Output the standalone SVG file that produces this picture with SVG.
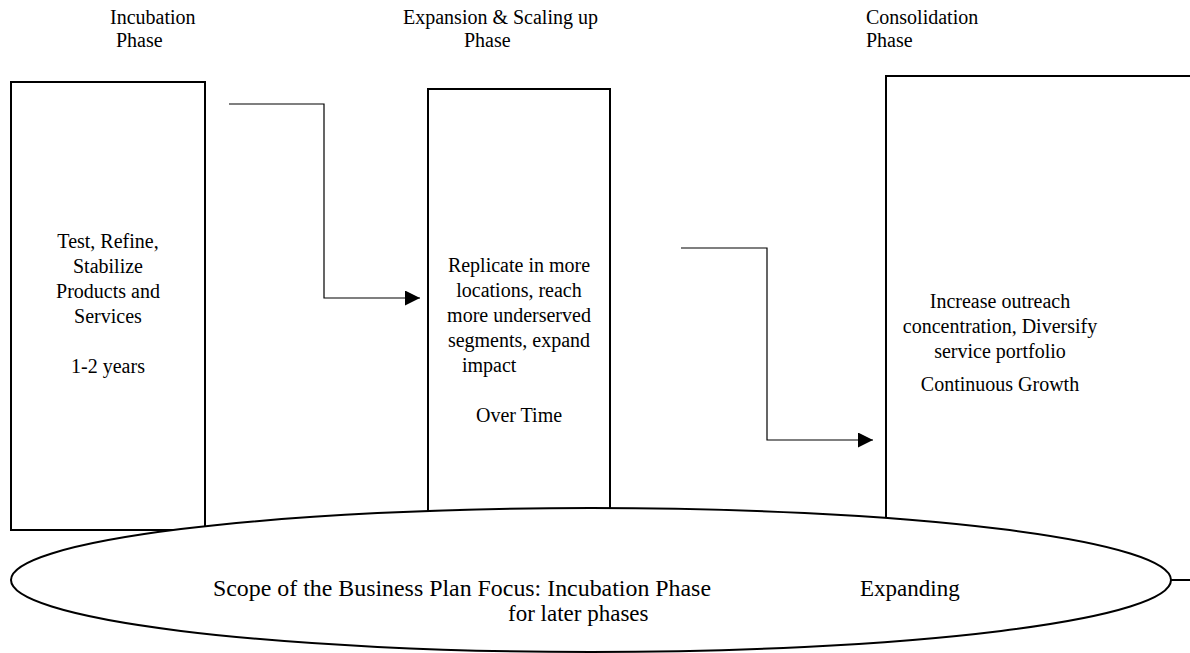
<svg xmlns="http://www.w3.org/2000/svg" width="1190" height="653" viewBox="0 0 1190 653">
<style>
text{font-family:"Liberation Serif","Times New Roman",serif;font-size:20px;fill:#000}
.big{font-size:23px}
.box{fill:#fff;stroke:#000;stroke-width:2}
.conn{fill:none;stroke:#000;stroke-width:1.2}
.c{text-anchor:middle}
</style>
<defs>
<marker id="ah" viewBox="0 0 10 10" refX="10" refY="5" markerWidth="15" markerHeight="15" markerUnits="userSpaceOnUse" orient="auto">
<path d="M0,0 L10,5 L0,10 z" fill="#000"/>
</marker>
</defs>
<g id="labels">
<text x="110" y="24">Incubation</text>
<text x="116" y="47">Phase</text>
<text x="403" y="24">Expansion &amp; Scaling up</text>
<text x="464" y="47">Phase</text>
<text x="866" y="24">Consolidation</text>
<text x="866" y="47">Phase</text>
</g>
<g id="incubation">
<rect class="box" x="11" y="82" width="194" height="448"/>
<text class="c" x="108" y="248">Test, Refine,</text>
<text class="c" x="108" y="273">Stabilize</text>
<text class="c" x="108" y="298">Products and</text>
<text class="c" x="108" y="323">Services</text>
<text class="c" x="108" y="373">1-2 years</text>
</g>
<g id="expansion">
<rect class="box" x="428" y="89" width="182" height="440"/>
<text class="c" x="519" y="272">Replicate in more</text>
<text class="c" x="519" y="297">locations, reach</text>
<text class="c" x="519" y="322">more underserved</text>
<text class="c" x="519" y="347">segments, expand</text>
<text x="462" y="372">impact</text>
<text class="c" x="519" y="422">Over Time</text>
</g>
<g id="consolidation">
<rect class="box" x="886" y="76" width="320" height="504"/>
<text class="c" x="1000" y="308">Increase outreach</text>
<text class="c" x="1000" y="333">concentration, Diversify</text>
<text class="c" x="1000" y="358">service portfolio</text>
<text class="c" x="1000" y="391">Continuous Growth</text>
</g>
<g id="scope">
<ellipse class="box" cx="591" cy="580" rx="580" ry="72"/>
<text class="big" x="213" y="596" textLength="498" lengthAdjust="spacingAndGlyphs">Scope of the Business Plan Focus: Incubation Phase</text>
<text class="big" x="860" y="596">Expanding</text>
<text class="big" x="508" y="621">for later phases</text>
</g>
<g id="connectors">
<path class="conn" d="M229,104 H324 V298 H420" marker-end="url(#ah)"/>
<path class="conn" d="M681,248 H767 V440 H873" marker-end="url(#ah)"/>
</g>
</svg>
